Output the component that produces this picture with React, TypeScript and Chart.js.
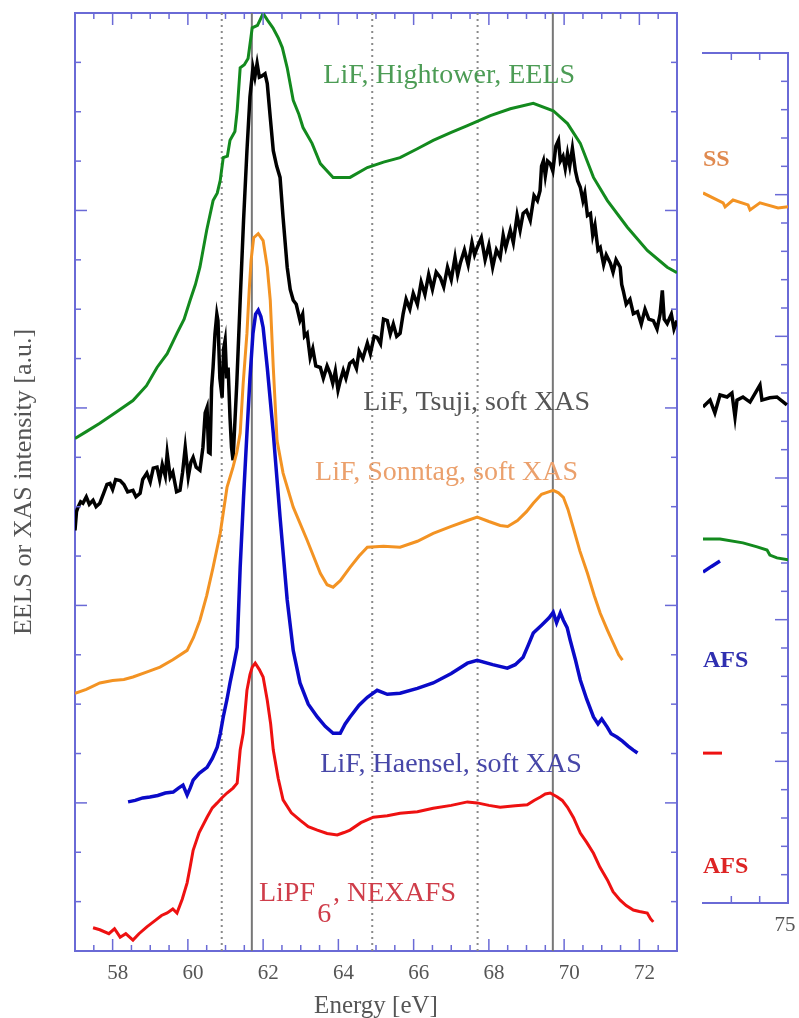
import React, { useEffect, useRef } from 'react';
import { Chart, registerables } from 'chart.js';

Chart.register(...registerables);

const FONT = '"Liberation Serif", "Times New Roman", serif';
const FRAME = '#6a6ad6';

// ---------- Main panel data (energy [eV], intensity [a.u.]) ----------
const hightowerEELS: [number, number][] = [
  [57.0, 10.38], [57.3, 10.52], [57.66, 10.69], [58.1, 10.92], [58.54, 11.15], [58.9, 11.45], [59.18, 11.82],
  [59.45, 12.1], [59.71, 12.51], [59.9, 12.8], [60.06, 13.18], [60.2, 13.5], [60.32, 13.85], [60.5, 14.6],
  [60.67, 15.2], [60.78, 15.35], [60.86, 15.61], [60.94, 16.07], [61.05, 16.1], [61.12, 16.42], [61.25, 16.6],
  [61.31, 17.02], [61.39, 17.89], [61.5, 17.95], [61.6, 18.08], [61.71, 18.7], [61.85, 18.75], [62.0, 18.99],
  [62.12, 18.85], [62.26, 18.7], [62.4, 18.5], [62.51, 18.3], [62.64, 17.89], [62.8, 17.23], [62.95, 16.95],
  [63.06, 16.68], [63.3, 16.36], [63.52, 15.95], [63.86, 15.67], [64.31, 15.67], [64.77, 15.87], [65.2, 15.98],
  [65.64, 16.07], [66.1, 16.25], [66.52, 16.42], [67.0, 16.58], [67.43, 16.72], [68.04, 16.92], [68.57, 17.06],
  [69.18, 17.17], [69.71, 17.02], [70.09, 16.76], [70.43, 16.36], [70.78, 15.67], [71.15, 15.2], [71.68, 14.66],
  [72.21, 14.19], [72.74, 13.85], [73.0, 13.74],
];

const tsujiXAS: [number, number][] = [
  [57.0, 8.52], [57.04, 8.9], [57.08, 8.99], [57.15, 9.1], [57.21, 9.07], [57.3, 9.2], [57.38, 9.05], [57.48, 9.13],
  [57.56, 9.0], [57.66, 9.07], [57.75, 9.25], [57.85, 9.45], [57.93, 9.47], [58.0, 9.35], [58.08, 9.55], [58.2, 9.53],
  [58.3, 9.45], [58.4, 9.3], [58.54, 9.33], [58.62, 9.2], [58.73, 9.27], [58.8, 9.55], [58.91, 9.68], [59.0, 9.5],
  [59.08, 9.78], [59.18, 9.8], [59.25, 9.55], [59.32, 9.85], [59.4, 9.62], [59.45, 10.08], [59.53, 9.6], [59.6, 9.7],
  [59.7, 9.3], [59.79, 9.33], [59.86, 9.7], [59.93, 10.2], [60.01, 9.6], [60.08, 9.9], [60.14, 10.0], [60.22, 9.8],
  [60.32, 9.74], [60.4, 10.2], [60.46, 10.9], [60.51, 11.01], [60.55, 10.1], [60.59, 10.08], [60.63, 11.4],
  [60.67, 11.82], [60.72, 12.5], [60.77, 12.9], [60.8, 12.77], [60.85, 11.6], [60.91, 11.21], [60.95, 12.2],
  [60.99, 12.37], [61.03, 11.6], [61.07, 11.82], [61.12, 10.8], [61.16, 10.2], [61.2, 9.94], [61.3, 11.5],
  [61.39, 13.18], [61.48, 14.8], [61.57, 16.21], [61.65, 17.3], [61.73, 17.89], [61.78, 17.7], [61.84, 17.98],
  [61.9, 17.7], [61.96, 17.72], [62.05, 17.77], [62.11, 17.57], [62.19, 16.88], [62.27, 16.21], [62.36, 15.9],
  [62.45, 15.67], [62.53, 14.86], [62.64, 13.85], [62.72, 13.4], [62.8, 13.18], [62.88, 13.1], [62.98, 12.77],
  [63.05, 12.9], [63.1, 12.45], [63.17, 12.51], [63.25, 12.02], [63.32, 12.2], [63.4, 11.85], [63.52, 11.82],
  [63.6, 11.6], [63.7, 11.85], [63.78, 11.7], [63.85, 11.5], [63.92, 11.75], [63.99, 11.36], [64.05, 11.55],
  [64.13, 11.76], [64.2, 11.6], [64.3, 11.9], [64.39, 11.96], [64.48, 11.8], [64.55, 12.15], [64.65, 12.0],
  [64.77, 12.31], [64.85, 12.1], [64.95, 12.45], [65.03, 12.43], [65.12, 12.3], [65.2, 12.8], [65.3, 12.77],
  [65.38, 12.5], [65.46, 12.7], [65.55, 12.45], [65.64, 12.51], [65.72, 12.9], [65.8, 13.2], [65.9, 13.0],
  [65.99, 13.32], [66.1, 13.1], [66.2, 13.55], [66.3, 13.3], [66.4, 13.7], [66.5, 13.4], [66.6, 13.75],
  [66.71, 13.64], [66.8, 13.45], [66.9, 13.85], [67.0, 13.6], [67.1, 14.05], [67.17, 13.7], [67.24, 13.93],
  [67.35, 14.2], [67.45, 13.9], [67.55, 14.35], [67.62, 14.1], [67.69, 14.25], [67.8, 14.45], [67.9, 14.0],
  [68.0, 14.3], [68.1, 13.85], [68.2, 14.2], [68.3, 14.05], [68.38, 14.5], [68.45, 14.25], [68.57, 14.6],
  [68.65, 14.35], [68.75, 14.9], [68.83, 14.6], [68.91, 14.94], [69.0, 15.0], [69.1, 14.8], [69.2, 15.3],
  [69.29, 15.2], [69.36, 15.4], [69.4, 15.9], [69.45, 16.01], [69.5, 15.7], [69.56, 16.0], [69.63, 15.95],
  [69.7, 15.8], [69.78, 16.3], [69.85, 16.42], [69.9, 16.0], [69.97, 16.1], [70.03, 15.85], [70.09, 16.15],
  [70.15, 15.9], [70.22, 16.26], [70.3, 15.8], [70.36, 15.6], [70.43, 15.47], [70.5, 15.2], [70.55, 15.35],
  [70.62, 14.9], [70.7, 14.94], [70.76, 14.5], [70.82, 14.7], [70.9, 14.2], [70.96, 14.25], [71.05, 13.9],
  [71.12, 14.1], [71.23, 13.93], [71.3, 13.75], [71.38, 14.0], [71.49, 13.85], [71.53, 13.5], [71.57, 13.38],
  [71.65, 13.1], [71.75, 13.2], [71.84, 12.91], [71.95, 12.95], [72.05, 12.7], [72.15, 13.0], [72.25, 12.8],
  [72.37, 12.77], [72.47, 12.6], [72.55, 12.9], [72.61, 13.38], [72.66, 12.8], [72.74, 12.71], [72.85, 12.9],
  [72.92, 12.6], [73.0, 12.77],
];

const sonntagXAS: [number, number][] = [
  [57.0, 5.22], [57.3, 5.3], [57.66, 5.43], [58.0, 5.48], [58.3, 5.5], [58.54, 5.55], [58.9, 5.65], [59.26, 5.75],
  [59.6, 5.9], [59.98, 6.09], [60.15, 6.35], [60.32, 6.7], [60.5, 7.2], [60.67, 7.77], [60.86, 8.46], [61.04, 9.39],
  [61.2, 9.8], [61.3, 10.1], [61.39, 10.49], [61.47, 11.5], [61.57, 12.51], [61.63, 13.38], [61.68, 13.99],
  [61.75, 14.45], [61.87, 14.53], [62.0, 14.39], [62.11, 13.85], [62.19, 13.18], [62.27, 11.82], [62.37, 10.34],
  [62.53, 9.68], [62.8, 8.99], [63.17, 8.32], [63.52, 7.65], [63.7, 7.42], [63.86, 7.37], [64.05, 7.5],
  [64.31, 7.77], [64.55, 8.0], [64.77, 8.18], [65.2, 8.2], [65.64, 8.18], [66.1, 8.3], [66.52, 8.46], [67.0, 8.6],
  [67.43, 8.72], [67.69, 8.79], [68.0, 8.7], [68.3, 8.62], [68.5, 8.6], [68.76, 8.72], [69.0, 8.9], [69.18, 9.07],
  [69.4, 9.25], [69.55, 9.29], [69.71, 9.33], [69.85, 9.28], [69.98, 9.19], [70.1, 8.95], [70.24, 8.58],
  [70.42, 8.1], [70.62, 7.65], [70.8, 7.2], [70.96, 6.84], [71.15, 6.5], [71.31, 6.23], [71.45, 6.0], [71.55, 5.89],
];

const haenselXAS: [number, number][] = [
  [58.41, 3.02], [58.6, 3.05], [58.8, 3.1], [58.99, 3.12], [59.2, 3.15], [59.4, 3.2], [59.61, 3.22], [59.75, 3.3],
  [59.87, 3.36], [59.98, 3.16], [60.06, 3.3], [60.14, 3.46], [60.3, 3.6], [60.51, 3.72], [60.65, 3.9], [60.78, 4.13],
  [60.86, 4.4], [60.94, 4.74], [61.04, 5.1], [61.12, 5.43], [61.22, 5.8], [61.31, 6.15], [61.39, 7.77],
  [61.48, 9.2], [61.57, 10.49], [61.65, 11.6], [61.73, 12.51], [61.8, 12.9], [61.87, 12.98], [61.94, 12.85],
  [62.0, 12.63], [62.11, 11.82], [62.27, 10.49], [62.45, 8.79], [62.64, 7.11], [62.8, 6.09], [62.98, 5.43],
  [63.2, 5.0], [63.44, 4.74], [63.65, 4.55], [63.86, 4.41], [64.05, 4.41], [64.18, 4.6], [64.31, 4.74],
  [64.55, 4.98], [64.77, 5.14], [65.03, 5.28], [65.3, 5.2], [65.64, 5.22], [66.1, 5.32], [66.52, 5.43],
  [67.0, 5.62], [67.43, 5.83], [67.69, 5.89], [68.1, 5.8], [68.49, 5.73], [68.7, 5.8], [68.91, 5.95], [69.05, 6.2],
  [69.18, 6.44], [69.4, 6.6], [69.6, 6.75], [69.71, 6.86], [69.8, 6.65], [69.9, 6.85], [69.98, 6.7], [70.08, 6.55],
  [70.16, 6.3], [70.3, 5.9], [70.43, 5.49], [70.6, 5.1], [70.78, 4.74], [70.9, 4.6], [71.0, 4.7], [71.15, 4.53],
  [71.25, 4.4], [71.41, 4.33], [71.55, 4.25], [71.7, 4.15], [71.84, 4.07], [71.95, 4.01],
];

const lipf6NEXAFS: [number, number][] = [
  [57.48, 0.47], [57.66, 0.43], [57.9, 0.35], [58.05, 0.45], [58.2, 0.28], [58.35, 0.35], [58.54, 0.22],
  [58.7, 0.35], [58.91, 0.49], [59.1, 0.6], [59.3, 0.72], [59.45, 0.77], [59.6, 0.85], [59.71, 0.77],
  [59.85, 1.05], [59.98, 1.38], [60.06, 1.7], [60.14, 2.04], [60.3, 2.4], [60.51, 2.71], [60.65, 2.9],
  [60.78, 3.0], [60.9, 3.1], [61.04, 3.2], [61.2, 3.3], [61.31, 3.4], [61.39, 4.07], [61.47, 4.41], [61.57, 5.28],
  [61.65, 5.6], [61.71, 5.75], [61.79, 5.83], [61.9, 5.7], [62.0, 5.55], [62.11, 5.08], [62.2, 4.6], [62.27, 4.07],
  [62.4, 3.5], [62.53, 3.06], [62.75, 2.8], [62.98, 2.65], [63.2, 2.52], [63.44, 2.45], [63.7, 2.38],
  [63.97, 2.35], [64.15, 2.4], [64.31, 2.45], [64.6, 2.6], [64.93, 2.71], [65.3, 2.74], [65.64, 2.79],
  [66.1, 2.82], [66.52, 2.89], [67.0, 2.95], [67.43, 3.02], [67.69, 3.0], [68.0, 2.95], [68.3, 2.91],
  [68.7, 2.94], [69.02, 2.96], [69.2, 3.05], [69.37, 3.12], [69.5, 3.18], [69.63, 3.2], [69.82, 3.12],
  [69.95, 3.05], [70.09, 2.91], [70.25, 2.7], [70.43, 2.39], [70.6, 2.2], [70.78, 1.98], [70.95, 1.7],
  [71.15, 1.44], [71.3, 1.2], [71.49, 1.03], [71.65, 0.92], [71.84, 0.83], [72.0, 0.8], [72.21, 0.77],
  [72.3, 0.65], [72.37, 0.59],
];

const dottedLinesE = [60.9, 64.9, 67.7];
const solidLinesE = [61.7, 69.7];

const mainXTickLabels = [58, 60, 62, 64, 66, 68, 70, 72];

const mainLabelTexts = ['LiF, Hightower, EELS', 'LiF, Tsuji, soft XAS', 'LiF, Sonntag, soft XAS', 'LiF, Haensel, soft XAS', 'LiPF', '6', ', NEXAFS'];
const mainLabelE = [63.6, 64.66, 63.38, 63.52, 61.89, 63.44, 63.86];
const mainLabelI = [17.73, 11.11, 9.68, 3.77, 1.17, 0.73, 1.17];
const mainLabelColors = ['#4c9c55', '#555555', '#eba06c', '#4747a8', '#cf3d4a', '#cf3d4a', '#cf3d4a'];

// ---------- Side (clipped) panel data ----------
const sideOrange: [number, number][] = [
  [72.0, 25.06], [72.71, 24.71], [72.78, 24.57], [73.06, 24.81], [73.59, 24.64], [73.66, 24.46], [74.01, 24.71],
  [74.65, 24.53], [75.0, 24.57],
];
const sideBlack: [number, number][] = [
  [72.0, 17.51], [72.25, 17.75], [72.42, 17.3], [72.6, 17.93], [72.85, 17.86], [73.02, 18.0], [73.13, 17.15],
  [73.2, 17.75], [73.41, 17.86], [73.66, 17.68], [74.01, 18.28], [74.08, 17.75], [74.36, 17.83], [74.61, 17.86],
  [74.96, 17.58],
];
const sideGreen: [number, number][] = [
  [72.0, 12.85], [72.6, 12.85], [73.41, 12.71], [73.91, 12.57], [74.26, 12.46], [74.36, 12.28], [74.61, 12.18],
  [75.0, 12.11],
];
const sideBlue: [number, number][] = [[72.0, 11.68], [72.3, 11.88], [72.6, 12.07]];
const sideRed: [number, number][] = [[72.0, 5.29], [72.67, 5.29]];

const sideLabelTexts = ['SS', 'AFS', 'AFS'];
const sideLabelE = [72.0, 72.0, 72.0];
const sideLabelI = [26.23, 8.54, 1.27];
const sideLabelColors = ['#e08a50', '#2f2fb0', '#dd2424'];

// ---------- helpers ----------
const pts = (arr: [number, number][]) => arr.map(([x, y]) => ({ x, y }));

const lineDs = (data: [number, number][], color: string, width: number) => ({
  data: pts(data),
  borderColor: color,
  borderWidth: width,
  pointRadius: 0,
  tension: 0,
  fill: false,
  order: 0,
});

const textPlugin = {
  id: 'textLabels',
  afterDatasetsDraw(chart: any, _args: any, opts: any) {
    const { ctx } = chart;
    const xs = chart.scales.x;
    const ys = chart.scales.y;
    ctx.save();
    for (const it of opts.items || []) {
      ctx.font = it.font;
      ctx.fillStyle = it.color;
      ctx.textAlign = 'left';
      ctx.textBaseline = 'middle';
      ctx.fillText(it.text, xs.getPixelForValue(it.x), ys.getPixelForValue(it.y));
    }
    ctx.restore();
  },
};

const tickPlugin = {
  id: 'innerTicks',
  afterDraw(chart: any, _args: any, opts: any) {
    const { ctx, chartArea: a } = chart;
    const xs = chart.scales.x;
    const ys = chart.scales.y;
    ctx.save();
    ctx.strokeStyle = FRAME;
    ctx.lineWidth = 1.5;
    const seg = (x1: number, y1: number, x2: number, y2: number) => {
      ctx.beginPath();
      ctx.moveTo(x1, y1);
      ctx.lineTo(x2, y2);
      ctx.stroke();
    };
    for (let v = opts.xStart; v <= opts.xEnd + 1e-9; v += opts.xStep) {
      const px = xs.getPixelForValue(v);
      const len = opts.xMajor(v) ? opts.majorLen : opts.minorLen;
      seg(px, a.bottom, px, a.bottom - len);
      seg(px, a.top, px, a.top + len);
    }
    for (let v = opts.yStart; v <= opts.yEnd + 1e-9; v += opts.yStep) {
      const py = ys.getPixelForValue(v);
      const len = opts.yMajor(v) ? opts.majorLen : opts.minorLen;
      if (opts.left) seg(a.left, py, a.left + len, py);
      seg(a.right, py, a.right - len, py);
    }
    ctx.restore();
  },
};

const frameAxis = (position: string, min: number, max: number, size: number, horizontal: boolean) => ({
  type: 'linear',
  position,
  min,
  max,
  border: { display: true, color: FRAME, width: 2 },
  grid: { display: false, drawTicks: false },
  ticks: { display: false },
  afterFit: (s: any) => {
    if (horizontal) s.height = size;
    else s.width = size;
    s.paddingLeft = 0;
    s.paddingRight = 0;
    s.paddingTop = 0;
    s.paddingBottom = 0;
  },
});

function MainChart() {
  const ref = useRef<HTMLCanvasElement>(null);
  useEffect(() => {
    if (!ref.current) return;
    const vertical = [
      ...dottedLinesE.map((e) => ({
        data: [{ x: e, y: 0 }, { x: e, y: 19 }],
        borderColor: '#8a8a8a',
        borderWidth: 2,
        borderDash: [2, 4],
        pointRadius: 0,
        order: 5,
      })),
      ...solidLinesE.map((e) => ({
        data: [{ x: e, y: 0 }, { x: e, y: 19 }],
        borderColor: '#777777',
        borderWidth: 2,
        pointRadius: 0,
        order: 5,
      })),
    ];
    const items = mainLabelTexts.map((t, i) => ({
      text: t,
      x: mainLabelE[i],
      y: mainLabelI[i],
      color: mainLabelColors[i],
      font: `28px ${FONT}`,
    }));
    const chart = new Chart(ref.current, {
      type: 'line',
      data: {
        datasets: [
          ...vertical,
          lineDs(lipf6NEXAFS, '#ee1111', 3),
          lineDs(haenselXAS, '#0a0ac8', 3.5),
          lineDs(sonntagXAS, '#f39323', 3),
          lineDs(tsujiXAS, '#000000', 3.5),
          lineDs(hightowerEELS, '#138a1e', 3),
        ] as any,
      },
      options: {
        responsive: false,
        animation: false,
        devicePixelRatio: 1,
        layout: { padding: 0 },
        plugins: {
          legend: { display: false },
          tooltip: { enabled: false },
          textLabels: { items },
          innerTicks: {
            xStart: 57.5, xEnd: 72.5, xStep: 0.5, xMajor: (v: number) => Math.abs(v % 2) < 1e-6,
            yStart: 1, yEnd: 18, yStep: 1, yMajor: (v: number) => Math.abs((v - 3) % 4) < 1e-6,
            majorLen: 12, minorLen: 6, left: true,
          },
        } as any,
        scales: {
          x: {
            type: 'linear',
            position: 'bottom',
            min: 57,
            max: 73,
            border: { display: true, color: FRAME, width: 2 },
            grid: { display: false, drawTicks: false },
            afterBuildTicks: (s: any) => {
              s.ticks = mainXTickLabels.map((v) => ({ value: v }));
            },
            ticks: {
              autoSkip: false,
              maxRotation: 0,
              padding: 10,
              labelOffset: 5,
              color: '#555555',
              font: { family: FONT, size: 21 },
            },
            title: {
              display: true,
              text: 'Energy [eV]',
              color: '#555555',
              font: { family: FONT, size: 25 },
              padding: { top: 0, bottom: -3 },
            },
            afterFit: (s: any) => { s.height = 67; },
          },
          xTop: frameAxis('top', 57, 73, 13, true),
          y: {
            type: 'linear',
            position: 'left',
            min: 0,
            max: 19,
            border: { display: true, color: FRAME, width: 2 },
            grid: { display: false, drawTicks: false },
            ticks: { display: false },
            title: {
              display: true,
              text: 'EELS or XAS intensity [a.u.]',
              color: '#555555',
              font: { family: FONT, size: 26 },
              padding: { top: 9, bottom: 0 },
            },
            afterFit: (s: any) => { s.width = 75; },
          },
          yRight: frameAxis('right', 0, 19, 13, false),
        } as any,
      },
      plugins: [textPlugin, tickPlugin],
    });
    return () => chart.destroy();
  }, []);
  return <canvas ref={ref} width={690} height={1018} style={{ position: 'absolute', left: 0, top: 0 }} />;
}

function SideChart() {
  const ref = useRef<HTMLCanvasElement>(null);
  useEffect(() => {
    if (!ref.current) return;
    const items = sideLabelTexts.map((t, i) => ({
      text: t,
      x: sideLabelE[i],
      y: sideLabelI[i],
      color: sideLabelColors[i],
      font: `bold 24px ${FONT}`,
    }));
    const chart = new Chart(ref.current, {
      type: 'line',
      data: {
        datasets: [
          lineDs(sideRed, '#ee1111', 3),
          lineDs(sideBlue, '#0a0ac8', 3.5),
          lineDs(sideGreen, '#138a1e', 3),
          lineDs(sideBlack, '#000000', 3.5),
          lineDs(sideOrange, '#f39323', 3),
        ] as any,
      },
      options: {
        responsive: false,
        animation: false,
        devicePixelRatio: 1,
        layout: { padding: { left: 3, right: 0, top: 0, bottom: 0 } },
        plugins: {
          legend: { display: false },
          tooltip: { enabled: false },
          textLabels: { items },
          innerTicks: {
            xStart: 73, xEnd: 74, xStep: 1, xMajor: () => false,
            yStart: 1, yEnd: 29, yStep: 1, yMajor: (v: number) => Math.abs(v % 5) < 1e-6,
            majorLen: 13, minorLen: 7, left: false,
          },
        } as any,
        scales: {
          x: {
            type: 'linear',
            position: 'bottom',
            min: 72,
            max: 75,
            border: { display: true, color: FRAME, width: 2 },
            grid: { display: false, drawTicks: false },
            afterBuildTicks: (s: any) => {
              s.ticks = [{ value: 75 }];
            },
            ticks: {
              autoSkip: false,
              maxRotation: 0,
              padding: 10,
              labelOffset: -3,
              color: '#555555',
              font: { family: FONT, size: 21 },
            },
            afterFit: (s: any) => {
              s.height = 115;
              s.paddingLeft = 0;
              s.paddingRight = 0;
            },
          },
          xTop: frameAxis('top', 72, 75, 53, true),
          y: {
            type: 'linear',
            position: 'right',
            min: 0,
            max: 30,
            border: { display: true, color: FRAME, width: 2 },
            grid: { display: false, drawTicks: false },
            ticks: { display: false },
            afterFit: (s: any) => { s.width = 11; },
          },
        } as any,
      },
      plugins: [textPlugin, tickPlugin],
    });
    return () => chart.destroy();
  }, []);
  return <canvas ref={ref} width={99} height={1018} style={{ position: 'absolute', left: 700, top: 0 }} />;
}

export default function App() {
  return (
    <div style={{ position: 'absolute', left: 0, top: 0, width: 799, height: 1018, background: '#ffffff' }}>
      <MainChart />
      <SideChart />
    </div>
  );
}
